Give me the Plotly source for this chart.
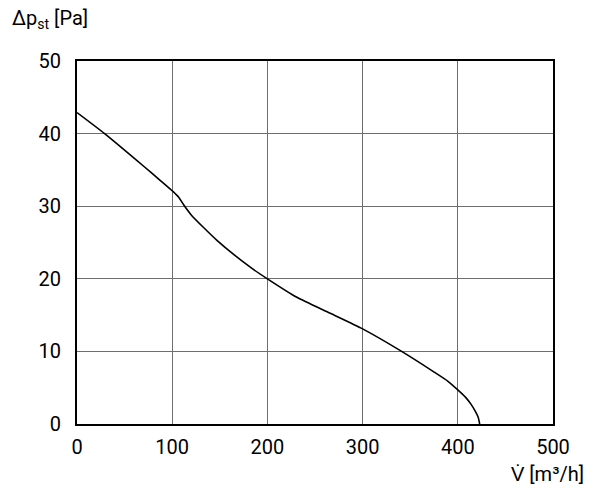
import plotly.graph_objects as go

flow = [0, 29, 71, 87, 101, 107, 112, 120, 147, 182, 200, 231, 266, 300, 341, 374, 390, 400, 408, 414, 419, 421.5, 423]
pressure = [42.9, 40, 35.4, 33.6, 32.0, 31.2, 30.2, 28.8, 25.3, 21.6, 20, 17.45, 15.25, 13.1, 10, 7.25, 5.85, 4.7, 3.7, 2.7, 1.6, 0.9, 0]

x_ticks = [0, 100, 200, 300, 400, 500]
y_ticks = [0, 10, 20, 30, 40, 50]

FONT = "Roboto, Liberation Sans Narrow, sans-serif"

fig = go.Figure()
fig.add_trace(go.Scatter(x=flow, y=pressure, mode="lines",
                         line=dict(color="black", width=1.6, shape="spline", smoothing=0.6),
                         showlegend=False, hoverinfo="skip"))

axis_common = dict(showgrid=True, gridcolor="#6e6e6e", gridwidth=1,
                   showline=True, linecolor="black", linewidth=2, mirror=True,
                   zeroline=False, ticks="", tickfont=dict(family=FONT, size=20, color="black"))

fig.update_xaxes(range=[0, 500], tickvals=x_ticks, ticktext=[str(v) for v in x_ticks],
                 ticklabelstandoff=4, **axis_common)
fig.update_yaxes(range=[0, 50], tickvals=y_ticks, ticktext=[str(v) for v in y_ticks],
                 ticklabelstandoff=10, **axis_common)

fig.add_annotation(text="Δp<sub>st</sub> [Pa]", xref="paper", yref="paper",
                   x=-0.14, y=1.075, xanchor="left", yanchor="bottom", showarrow=False,
                   font=dict(family=FONT, size=20, color="black"))
fig.add_annotation(text="V\u0307 [m³/h]", xref="paper", yref="paper",
                   x=1.07, y=-0.10, xanchor="right", yanchor="top", showarrow=False,
                   font=dict(family=FONT, size=20, color="black"))

fig.update_layout(width=600, height=499, margin=dict(l=77, r=47, t=61, b=75),
                  plot_bgcolor="white", paper_bgcolor="white")

fig.write_html("out.html")
